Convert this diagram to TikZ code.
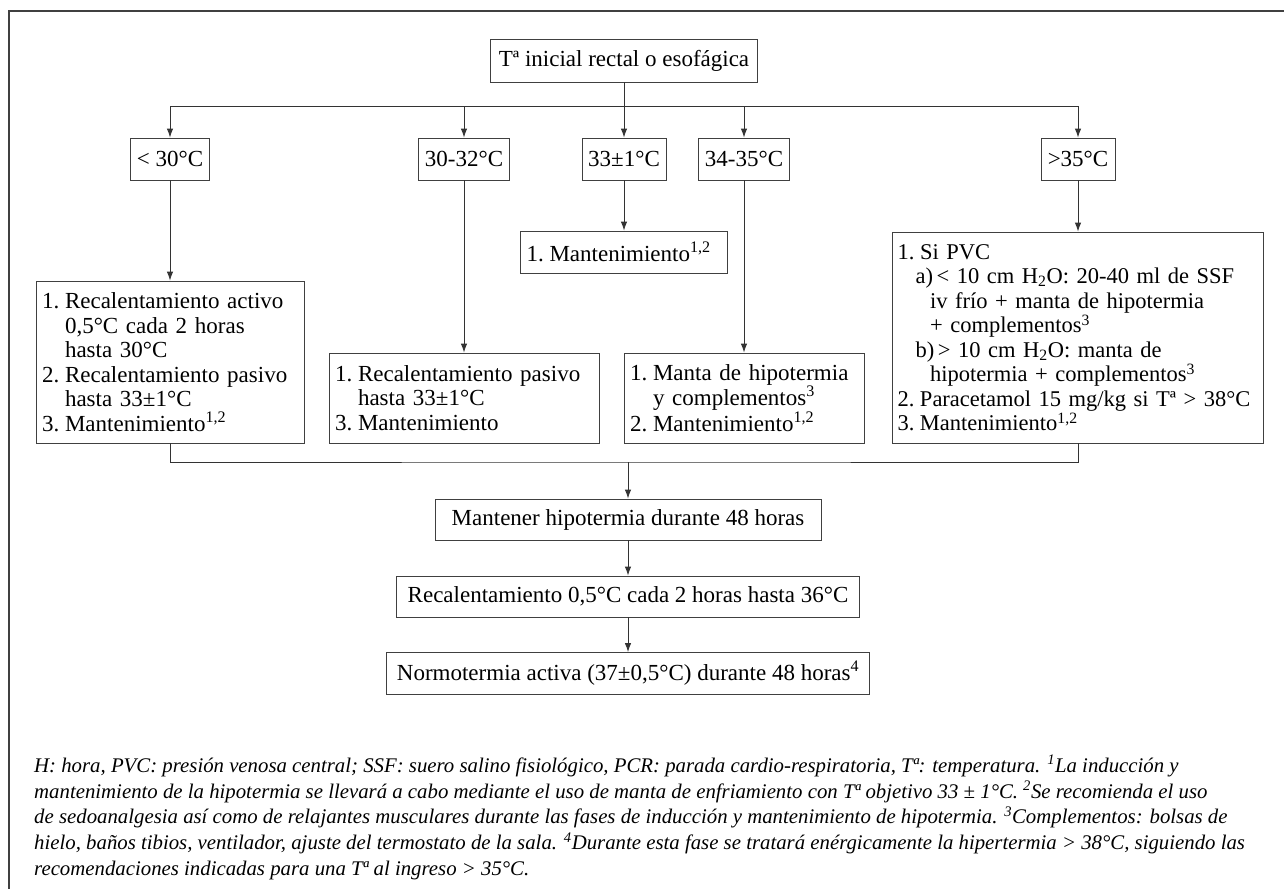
\documentclass[tikz,border=0pt]{standalone}
\usepackage{fontspec}
\setmainfont{Liberation Serif}
\usetikzlibrary{arrows.meta}
\newcommand{\lbl}[1]{\makebox[1.0em][l]{#1}}
\newcommand{\ind}[1]{\hspace*{#1}}
\tikzset{
  box/.style={draw=black!75, line width=0.9pt, inner xsep=6pt, inner ysep=0pt,
    font=\fontsize{23}{24.5}\selectfont},
  tbox/.style={box, align=left},
  conn/.style={draw=black!80, line width=0.9pt},
  arr/.style={conn, -{Latex[length=9pt,width=6.5pt]}},
  frame/.style={draw=black!75, line width=1.8pt},
  foot/.style={inner sep=0pt, align=left, font=\itshape\fontsize{20.8}{25.8}\selectfont}
}
\begin{document}
\begin{tikzpicture}[x=1pt,y=-1pt]
\useasboundingbox (0,0) rectangle (1284,889);
\draw[frame] (1284,11) -- (9,11) -- (9,889);

% top
\node[box, minimum width=267, minimum height=43] (top) at (624,60.5) {Tª inicial rectal o esofágica};

% level 1
\node[box, minimum width=79, minimum height=42] (la) at (170,159) {< 30°C};
\node[box, minimum width=89, minimum height=42] (lb) at (464,159) {30-32°C};
\node[box, minimum width=84, minimum height=42] (lc) at (624,159) {33±1°C};
\node[box, minimum width=88, minimum height=42] (ld) at (744,159) {34-35°C};
\node[box, minimum width=74, minimum height=42] (le) at (1078,159) {>35°C};

\coordinate (split) at (624,106);
\draw[conn] (top) -- (split);
\draw[arr] (split) -| (la);
\draw[arr] (split) -| (lb);
\draw[arr] (split) -- (lc);
\draw[arr] (split) -| (ld);
\draw[arr] (split) -| (le);

% level 2
\node[tbox, text width=256, minimum height=162] (ba) at (170,362) {%
\lbl{1.}Recalentamiento activo\\
\ind{1.0em}0,5°C cada 2 horas\\
\ind{1.0em}hasta 30°C\\
\lbl{2.}Recalentamiento pasivo\\
\ind{1.0em}hasta 33±1°C\\
\lbl{3.}Mantenimiento\textsuperscript{1,2}};

\node[tbox, text width=258, minimum height=90] (bb) at (464,398) {%
\lbl{1.}Recalentamiento pasivo\\
\ind{1.0em}hasta 33±1°C\\
\lbl{3.}Mantenimiento};

\node[tbox, text width=195, minimum height=42] (bc) at (624,252) {%
\lbl{1.}Mantenimiento\textsuperscript{1,2}};

\node[tbox, text width=228, minimum height=90] (bd) at (744,398) {%
\lbl{1.}Manta de hipotermia\\
\ind{1.0em}y complementos\textsuperscript{3}\\
\lbl{2.}Mantenimiento\textsuperscript{1,2}};

\node[tbox, inner xsep=5pt, text width=361, minimum height=211,
      font=\fontsize{22.5}{24.5}\selectfont] (be) at (1078,337.5) {%
\lbl{1.}Si PVC\\
\ind{0.8em}a)\,< 10 cm H\textsubscript{2}O: 20-40 ml de SSF\\
\ind{1.45em}iv frío + manta de hipotermia\\
\ind{1.45em}+ complementos\textsuperscript{3}\\
\ind{0.8em}b)\,> 10 cm H\textsubscript{2}O: manta de\\
\ind{1.45em}hipotermia + complementos\textsuperscript{3}\\
\mbox{\lbl{2.}Paracetamol 15 mg/kg si Tª > 38°C}\\
\lbl{3.}Mantenimiento\textsuperscript{1,2}};

\draw[arr] (la) -- (ba);
\draw[arr] (lb) -- (bb);
\draw[arr] (lc) -- (bc);
\draw[arr] (ld) -- (bd);
\draw[arr] (le) -- (be);

% merge
\coordinate (merge) at (628,462);
\draw[conn] (ba.south) |- (merge) -| (be.south);

\node[box, minimum width=386, minimum height=41] (m1) at (628,519.5) {Mantener hipotermia durante 48 horas};
\node[box, minimum width=463, minimum height=41] (m2) at (628,596.5) {Recalentamiento 0,5°C cada 2 horas hasta 36°C};
\node[box, minimum width=483, minimum height=42] (m3) at (628,673.5) {Normotermia activa (37±0,5°C) durante 48 horas\textsuperscript{4}};

\draw[arr] (merge) -- (m1);
\draw[arr] (m1) -- (m2);
\draw[arr] (m2) -- (m3);

% footnote
\node[foot, anchor=north west] (fn) at (34,755) {%
H: hora, PVC: presión venosa central; SSF: suero salino fisiológico, PCR: parada cardio-respiratoria, Tª: temperatura. \textsuperscript{1}La inducción y\\
mantenimiento de la hipotermia se llevará a cabo mediante el uso de manta de enfriamiento con Tª objetivo 33 ± 1°C. \textsuperscript{2}Se recomienda el uso\\
de sedoanalgesia así como de relajantes musculares durante las fases de inducción y mantenimiento de hipotermia. \textsuperscript{3}Complementos: bolsas de\\
hielo, baños tibios, ventilador, ajuste del termostato de la sala. \textsuperscript{4}Durante esta fase se tratará enérgicamente la hipertermia > 38°C, siguiendo las\\
recomendaciones indicadas para una Tª al ingreso > 35°C.};
\end{tikzpicture}
\end{document}
